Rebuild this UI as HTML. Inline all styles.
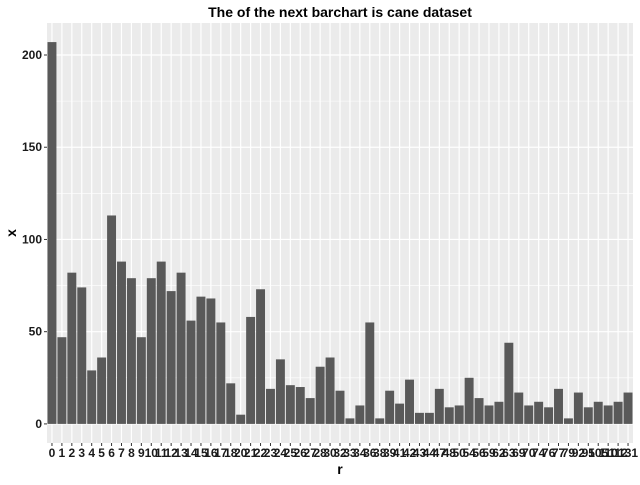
<!DOCTYPE html>
<html><head><meta charset="utf-8"><style>
body{margin:0;background:#fff;font-family:"Liberation Sans",sans-serif;}
</style></head><body>
<svg id="c" width="640" height="480" xmlns="http://www.w3.org/2000/svg">
<rect width="640" height="480" fill="#fff"/>
</svg>
<script>
const categories=["0","1","2","3","4","5","6","7","8","9","10","11","12","13","14","15","16","17","18","20","21","22","23","24","25","26","27","28","30","32","33","34","36","38","39","41","42","43","44","47","48","50","54","56","59","62","63","69","70","74","76","77","79","92","95","105","110","112","131"];
const values=[207,47,82,74,29,36,113,88,79,47,79,88,72,82,56,69,68,55,22,5,58,73,19,35,21,20,14,31,36,18,3,10,55,3,18,11,24,6,6,19,9,10,25,14,10,12,44,17,10,12,9,19,3,17,9,12,10,12,17];
const yTicks=[0,50,100,150,200];
const title="The of the next barchart is cane dataset";

const svg=document.getElementById('c');
const NS='http://www.w3.org/2000/svg';
const L=47,R=633,T=23,B=443;
const ymax=Math.max(...values), ylo=-ymax*0.05, yhi=ymax*1.05;
const y=v=>B-(v-ylo)/(yhi-ylo)*(B-T);
const n=categories.length;
const step=(R-L)/n;
const x=i=>L+(0.5+i)*step;
function mk(tag,attrs,parent){const e=document.createElementNS(NS,tag);for(const k in attrs)e.setAttribute(k,attrs[k]);(parent||svg).appendChild(e);return e;}
const panel=mk('rect',{x:L,y:T,width:R-L,height:B-T,fill:'#ebebeb'});


for(let k=0;k<yTicks.length-1;k++){const v=(yTicks[k]+yTicks[k+1])/2;const g=mk('line',{x1:L,x2:R,y1:y(v),y2:y(v),stroke:'#fff','stroke-width':0.6});

}
yTicks.forEach(v=>{const g=mk('line',{x1:L,x2:R,y1:y(v),y2:y(v),stroke:'#fff','stroke-width':1.2});


const t=mk('line',{x1:L-3,x2:L,y1:y(v),y2:y(v),stroke:'#333','stroke-width':1});


const lb=mk('text',{x:L-5,y:y(v)+4,'text-anchor':'end','font-size':12,'font-weight':'bold',fill:'#1a1a1a'});lb.textContent=v;

});
categories.forEach((c,i)=>{const g=mk('line',{x1:x(i),x2:x(i),y1:T,y2:B,stroke:'#fff','stroke-width':1.2});

});
categories.forEach((c,i)=>{const bw=step*0.9;const b=mk('rect',{x:x(i)-bw/2,y:y(values[i]),width:bw,height:y(0)-y(values[i]),fill:'#595959'});


const t=mk('line',{x1:x(i),x2:x(i),y1:B,y2:B+3,stroke:'#333','stroke-width':1});


const lb=mk('text',{x:x(i),y:B+14,'text-anchor':'middle','font-size':12,'font-weight':'bold',fill:'#1a1a1a'});lb.textContent=c;

});
const tt=mk('text',{x:(L+R)/2,y:17,'text-anchor':'middle','font-size':14,'font-weight':'bold',fill:'#000'});tt.textContent=title;


const xt=mk('text',{x:(L+R)/2,y:474,'text-anchor':'middle','font-size':14,'font-weight':'bold',fill:'#000'});xt.textContent='r';


const yt=mk('text',{x:0,y:0,'text-anchor':'middle','font-size':14,'font-weight':'bold',fill:'#000',transform:`translate(16,${(T+B)/2}) rotate(-90)`});yt.textContent='x';


</script>
</body></html>
